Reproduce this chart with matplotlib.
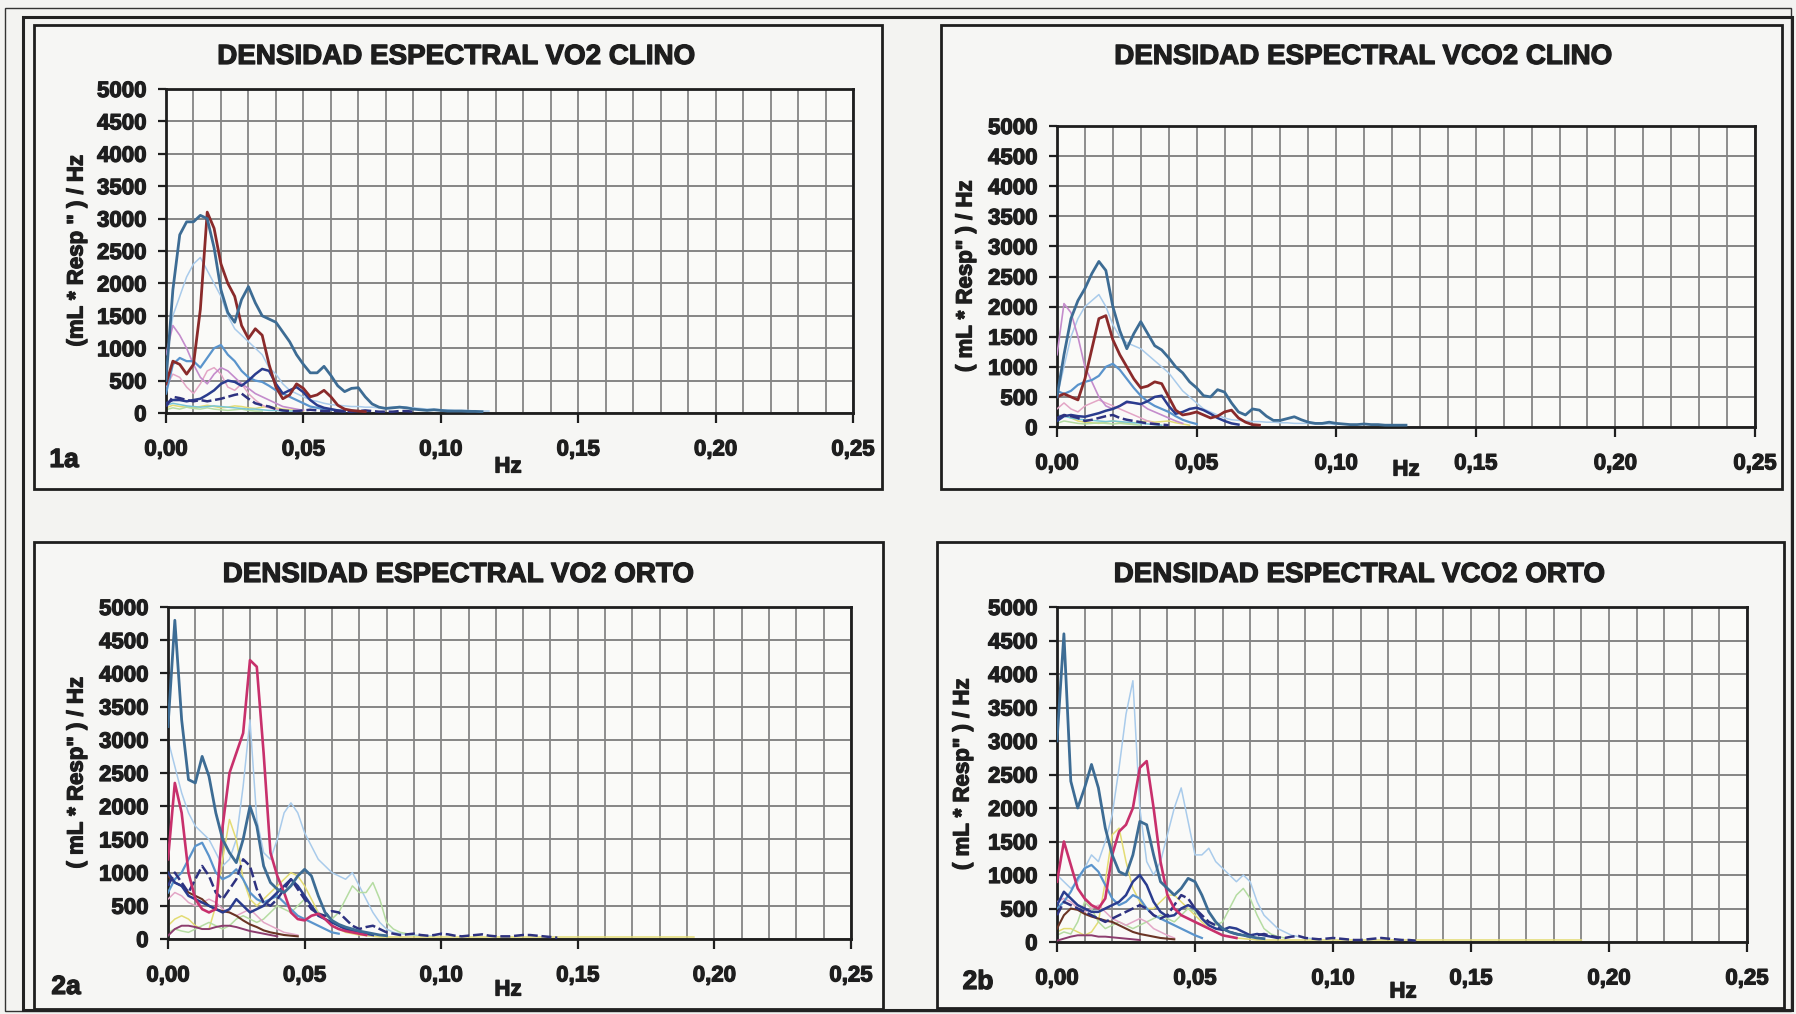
import numpy as np
import matplotlib
matplotlib.use('Agg')
import matplotlib.pyplot as plt
import matplotlib.patheffects as pe
from matplotlib.patches import Rectangle
from matplotlib.ticker import MultipleLocator

plt.rcParams['font.family'] = ['Liberation Sans', 'DejaVu Sans']
plt.rcParams['font.weight'] = 'bold'

W, H = 1796, 1014

# frequency bins (Hz), one every 0.0025
FREQ = np.arange(81) * 0.0025
XTICKS = [0.0, 0.05, 0.10, 0.15, 0.20, 0.25]
XTICK_LABELS = ['0,00', '0,05', '0,10', '0,15', '0,20', '0,25']
YTICKS = list(range(0, 5001, 500))
YTICK_LABELS = [str(v) for v in YTICKS]

TITLES = ['DENSIDAD ESPECTRAL VO2 CLINO', 'DENSIDAD ESPECTRAL VCO2 CLINO',
          'DENSIDAD ESPECTRAL VO2 ORTO', 'DENSIDAD ESPECTRAL VCO2 ORTO']
PANEL_TAGS = ['1a', '', '2a', '2b']
YLABELS = ['(mL * Resp " ) / Hz', '( mL * Resp" ) / Hz', '( mL * Resp" ) / Hz', '( mL * Resp" ) / Hz']
XLABEL = 'Hz'

# ---- 1a  VO2 clino ----
C_VO2_STEEL = [500, 1900, 2750, 2950, 2950, 3050, 3000, 2550, 1900, 1550, 1400, 1750, 1950, 1700, 1500, 1450,
               1400, 1250, 1100, 900, 750, 620, 620, 720, 580, 420, 330, 380, 390, 250, 140, 90, 70, 80, 90, 80,
               60, 50, 40, 50, 40, 30, 30, 30, 25, 25, 20]
C_VO2_DARKRED = [450, 800, 750, 600, 750, 1600, 3100, 2850, 2300, 2000, 1800, 1350, 1150, 1300, 1200, 750, 400,
                 220, 280, 450, 380, 250, 280, 350, 250, 120, 60, 40, 30, 20]
C_VO2_MEDBLUE = [300, 750, 850, 800, 800, 700, 850, 1000, 1050, 900, 800, 650, 550, 500, 480, 420, 350, 300, 250,
                 200, 150, 100, 80, 60, 50, 40, 30]
C_VO2_NAVY = [150, 200, 200, 180, 200, 220, 280, 350, 450, 500, 480, 420, 500, 600, 680, 650, 450, 300, 350, 400,
              320, 200, 120, 80, 60, 40, 30]
C_VO2_LAVENDER = [900, 1350, 1200, 1000, 750, 550, 450, 600, 700, 650, 550, 450, 380, 300, 250, 200, 150, 100, 80,
                  60, 40]
C_VO2_LIGHTBLUE = [800, 1500, 1800, 2100, 2300, 2400, 2200, 2000, 1800, 1500, 1300, 1200, 1100, 1000, 900, 700,
                   600, 450, 350, 300, 250, 200, 180, 150, 130, 120, 110, 100, 100, 90, 90, 80, 80, 90, 100, 90,
                   80, 70, 60, 60, 50, 50, 40, 40, 40, 30, 30, 30]
C_VO2_ROSE = [400, 600, 550, 400, 300, 450, 650, 700, 600, 400, 350, 450, 300, 200, 120, 80, 60, 40]
C_VO2_NAVYDASH = [100, 250, 230, 200, 180, 200, 180, 200, 220, 250, 280, 300, 220, 150, 120, 100, 60, 40, 30, 30,
                  40, 50, 40, 30, 30, 30, 20, 20, 30, 40, 30, 20, 20, 20, 30, 30, 20]
C_VO2_YELLOW = [80, 120, 100, 90, 80, 100, 120, 100, 80, 90, 110, 100, 80, 70, 90, 100, 80, 60, 50, 40, 30]
C_VO2_GREEN = [50, 80, 60, 90, 70, 60, 80, 60, 50, 40, 50, 60, 40, 30, 30]
C_VO2_CYAN = [120, 150, 130, 110, 100, 90, 100, 110, 100, 90, 80, 70, 60, 60, 50, 40, 40, 30, 30, 30]

# ---- 1b  VCO2 clino ----
C_VCO2_STEEL = [500, 1200, 1800, 2100, 2300, 2550, 2750, 2600, 2000, 1600, 1300, 1550, 1750, 1550, 1350, 1280,
                1150, 1000, 900, 750, 650, 520, 500, 620, 580, 400, 250, 200, 300, 280, 180, 110, 110, 140, 170,
                120, 80, 60, 60, 80, 60, 50, 40, 40, 50, 40, 40, 30, 30, 30, 30]
C_VCO2_DARKRED = [500, 550, 500, 450, 800, 1300, 1800, 1850, 1450, 1200, 1000, 800, 650, 680, 750, 720, 500, 280,
                  200, 220, 250, 200, 150, 180, 250, 280, 150, 80, 40, 30]
C_VCO2_LAVENDER = [1200, 2050, 1900, 1500, 1000, 750, 500, 350, 300, 350, 400, 400, 380, 300, 250, 200, 150, 100, 60]
C_VCO2_MEDBLUE = [600, 550, 600, 700, 750, 780, 850, 1000, 1050, 950, 800, 650, 520, 420, 350, 300, 250, 180, 120,
                  80, 50]
C_VCO2_NAVY = [100, 180, 200, 180, 170, 200, 230, 270, 300, 350, 420, 400, 380, 430, 500, 520, 350, 220, 250, 300,
               320, 280, 220, 150, 100, 60, 40]
C_VCO2_LIGHTBLUE = [500, 1000, 1500, 1800, 2000, 2100, 2200, 2000, 1700, 1500, 1400, 1350, 1300, 1200, 1100, 1000,
                    900, 750, 600, 500, 400, 300, 250, 200, 150, 120, 110, 100, 90, 90, 80, 80, 70, 70, 60, 60,
                    60, 50, 50, 50, 40]
C_VCO2_ROSE = [300, 400, 300, 250, 350, 400, 450, 400, 350, 300, 250, 200, 150, 100, 60]
C_VCO2_NAVYDASH = [150, 200, 180, 150, 100, 120, 150, 180, 200, 150, 120, 100, 80, 60, 50, 40, 30]
C_VCO2_YELLOW = [150, 200, 150, 100, 80, 70, 60, 80, 100, 80, 60, 70, 90, 100, 80, 90, 100, 70, 50, 30]
C_VCO2_GREEN = [60, 100, 80, 60, 50, 60, 70, 60, 50, 60, 50, 40, 30]
C_VCO2_CYAN = [200, 180, 150, 130, 120, 110, 100, 90, 100, 90, 80, 70, 60, 50, 40, 30]

# ---- 2a  VO2 orto ----
O_VO2_STEEL = [3200, 4800, 3300, 2400, 2350, 2750, 2450, 1900, 1500, 1300, 1150, 1500, 2000, 1700, 1100, 850, 750,
               700, 800, 950, 1050, 950, 650, 400, 280, 220, 180, 150, 120, 100, 80, 60, 50]
O_VO2_CRIMSON = [1200, 2350, 1900, 1000, 600, 450, 400, 450, 1700, 2500, 2800, 3100, 4200, 4100, 2800, 1300, 950,
                 700, 400, 300, 280, 350, 380, 300, 200, 150, 120, 100, 80, 60]
O_VO2_NAVYDASH = [800, 1000, 850, 700, 900, 1100, 950, 700, 600, 750, 900, 1200, 1100, 750, 550, 500, 600, 750,
                  900, 750, 600, 450, 380, 350, 420, 400, 300, 200, 150, 180, 200, 150, 100, 80, 60, 70, 80, 60,
                  50, 60, 80, 70, 50, 40, 50, 60, 70, 50, 40, 40, 40, 50, 60, 60, 50, 40, 30, 20]
O_VO2_NAVY = [1000, 850, 800, 650, 600, 550, 500, 450, 400, 450, 600, 500, 400, 450, 500, 600, 700, 800, 900, 800,
              650, 500, 350, 300, 250, 200, 150, 120, 100, 80, 60]
O_VO2_MEDBLUE = [700, 900, 1000, 1200, 1400, 1450, 1250, 1000, 900, 950, 1050, 900, 700, 600, 550, 600, 650, 550,
                 450, 350, 300, 250, 200, 150, 100, 80]
O_VO2_BROWN = [950, 850, 800, 700, 650, 600, 500, 450, 420, 400, 350, 280, 220, 180, 130, 100, 80, 60, 50, 40]
O_VO2_PLUM = [50, 150, 200, 200, 180, 150, 150, 180, 200, 200, 180, 150, 120, 100, 80, 60, 40]
O_VO2_YELLOW = [200, 300, 350, 300, 200, 150, 150, 500, 1200, 1800, 1500, 900, 600, 500, 600, 700, 800, 900,
                1000, 950, 800, 600, 400, 300, 200, 150, 100, 80, 60, 50, 40, 30, 30, 30, 30, 30, 30, 30, 30, 30,
                30, 30, 30, 30, 30, 30, 30, 30, 30, 30, 30, 30, 30, 30, 30, 30, 30, 30, 30, 30, 30, 30, 30, 30, 30,
                30, 30, 30, 30, 30, 30, 30, 30, 30, 30, 30, 30, 30]
O_VO2_LIGHTBLUE = [3000, 2600, 2200, 1900, 1700, 1600, 1500, 1300, 1100, 1200, 1500, 2300, 3300, 1800, 1300, 1200,
                   1500, 1900, 2050, 1900, 1600, 1400, 1200, 1100, 1000, 950, 900, 1000, 800, 600, 400, 250, 150,
                   100, 80, 70, 60, 50, 50, 40]
O_VO2_ROSE = [600, 700, 650, 550, 500, 550, 600, 550, 450, 400, 350, 400, 450, 350, 250, 200, 150, 100, 80, 60]
O_VO2_GREEN = [100, 150, 120, 100, 150, 200, 250, 200, 150, 200, 300, 350, 300, 250, 300, 400, 500, 450, 400, 500,
               600, 500, 400, 350, 300, 400, 600, 800, 700, 700, 850, 600, 250, 150, 100, 80, 60]

# ---- 2b  VCO2 orto ----
O_VCO2_STEEL = [3000, 4600, 2400, 2000, 2300, 2650, 2300, 1700, 1300, 1050, 1000, 1300, 1800, 1750, 1300, 900,
                800, 700, 800, 950, 900, 700, 450, 300, 200, 150, 120, 100, 80, 60, 50]
O_VCO2_CRIMSON = [900, 1500, 1150, 800, 650, 550, 500, 650, 1300, 1650, 1750, 2000, 2600, 2700, 2000, 1200, 700,
                  500, 400, 350, 300, 250, 200, 150, 100, 80, 60]
O_VCO2_NAVY = [550, 750, 650, 550, 500, 450, 450, 500, 550, 600, 700, 900, 1000, 850, 600, 450, 380, 400, 500,
               550, 500, 350, 250, 200, 180, 220, 200, 150, 100, 120, 100, 80, 60]
O_VCO2_NAVYDASH = [400, 600, 550, 500, 450, 400, 350, 300, 350, 400, 450, 500, 550, 500, 400, 350, 400, 550, 700,
                   650, 500, 400, 300, 250, 200, 150, 120, 100, 80, 100, 120, 90, 70, 60, 80, 90, 60, 50, 40, 50,
                   60, 50, 40, 30, 30, 40, 50, 60, 50, 40, 30, 30, 20]
O_VCO2_MEDBLUE = [500, 600, 750, 950, 1100, 1150, 1050, 850, 650, 550, 600, 700, 650, 500, 400, 350, 300, 250, 200,
                  150, 100, 60]
O_VCO2_BROWN = [200, 400, 500, 480, 420, 380, 350, 320, 300, 250, 200, 150, 120, 100, 80, 60, 50, 40]
O_VCO2_PLUM = [20, 50, 80, 100, 100, 100, 80, 80, 70, 60, 50, 40, 30]
O_VCO2_ROSE = [600, 650, 600, 500, 450, 500, 550, 450, 350, 300, 250, 300, 350, 300, 200, 150, 100, 60]
O_VCO2_LIGHTBLUE = [1000, 900, 800, 900, 1100, 1300, 1200, 1500, 1900, 2600, 3400, 3900, 2000, 1200, 1000, 1200,
                    1600, 2000, 2300, 1800, 1300, 1300, 1400, 1200, 1100, 1000, 900, 1000, 900, 600, 400, 300, 200,
                    150, 100, 80, 60, 50]
O_VCO2_YELLOW = [150, 200, 200, 150, 100, 150, 300, 900, 1600, 1700, 1200, 800, 600, 500, 500, 600, 700, 700, 600,
                 500, 400, 300, 200, 150, 100, 80, 60, 50, 40, 30, 30, 30, 30, 30, 30, 30, 30, 30, 30, 30, 30, 30,
                 30, 30, 30, 30, 30, 30, 30, 30, 30, 30, 30, 30, 30, 30, 30, 30, 30, 30, 30, 30, 30, 30, 30, 30,
                 30, 30, 30, 30, 30, 30, 30, 30, 30, 30, 30]
O_VCO2_GREEN = [100, 150, 120, 300, 600, 500, 300, 200, 250, 300, 250, 200, 250, 300, 350, 400, 350, 300, 400, 500,
                450, 350, 300, 250, 300, 500, 700, 800, 650, 400, 200, 120, 80, 60]

# style per series kind: colour, width, dash, zorder
STYLE = {
    'lightblue': ('#a9cbeb', 1.1, '-', 2),
    'yellow': ('#e3dc73', 1.1, '-', 2),
    'green': ('#b5dca2', 1.1, '-', 2),
    'cyan': ('#78c6d6', 1.1, '-', 2),
    'rose': ('#e3a6c6', 1.1, '-', 3),
    'lavender': ('#c48ccc', 1.2, '-', 3),
    'plum': ('#8c3c6e', 1.4, '-', 3),
    'brown': ('#6a3424', 1.5, '-', 4),
    'medblue': ('#5a94cc', 1.6, '-', 4),
    'navy': ('#2a3c8e', 1.8, '-', 5),
    'navydash': ('#2e3280', 1.8, (0, (4, 1.5)), 5),
    'crimson': ('#c8306c', 1.9, '-', 6),
    'darkred': ('#8a2a2a', 2.0, '-', 6),
    'steel': ('#3d6c94', 2.0, '-', 7),
}

PANEL_SERIES = [
    [('lightblue', C_VO2_LIGHTBLUE), ('yellow', C_VO2_YELLOW), ('green', C_VO2_GREEN), ('cyan', C_VO2_CYAN),
     ('rose', C_VO2_ROSE), ('lavender', C_VO2_LAVENDER), ('medblue', C_VO2_MEDBLUE), ('navy', C_VO2_NAVY),
     ('navydash', C_VO2_NAVYDASH), ('darkred', C_VO2_DARKRED), ('steel', C_VO2_STEEL)],
    [('lightblue', C_VCO2_LIGHTBLUE), ('yellow', C_VCO2_YELLOW), ('green', C_VCO2_GREEN), ('cyan', C_VCO2_CYAN),
     ('rose', C_VCO2_ROSE), ('lavender', C_VCO2_LAVENDER), ('medblue', C_VCO2_MEDBLUE), ('navy', C_VCO2_NAVY),
     ('navydash', C_VCO2_NAVYDASH), ('darkred', C_VCO2_DARKRED), ('steel', C_VCO2_STEEL)],
    [('lightblue', O_VO2_LIGHTBLUE), ('yellow', O_VO2_YELLOW), ('green', O_VO2_GREEN), ('rose', O_VO2_ROSE),
     ('plum', O_VO2_PLUM), ('brown', O_VO2_BROWN), ('medblue', O_VO2_MEDBLUE), ('navy', O_VO2_NAVY),
     ('navydash', O_VO2_NAVYDASH), ('crimson', O_VO2_CRIMSON), ('steel', O_VO2_STEEL)],
    [('lightblue', O_VCO2_LIGHTBLUE), ('yellow', O_VCO2_YELLOW), ('green', O_VCO2_GREEN), ('rose', O_VCO2_ROSE),
     ('plum', O_VCO2_PLUM), ('brown', O_VCO2_BROWN), ('medblue', O_VCO2_MEDBLUE), ('navy', O_VCO2_NAVY),
     ('navydash', O_VCO2_NAVYDASH), ('crimson', O_VCO2_CRIMSON), ('steel', O_VCO2_STEEL)],
]

# layout in pixels: axes (l, t, r, b), panel box, title, xlabel, ylabel x, tag position
AX_PX = [(166, 89, 853, 413), (1057, 126, 1755, 427), (168, 607, 851, 939), (1057, 607, 1747, 942)]
BOX_PX = [(34, 25, 882, 489), (941, 25, 1782, 489), (34, 542, 883, 1009), (937, 542, 1784, 1008)]
TITLE_PX = [(456, 57), (1363, 57), (458, 575), (1359, 575)]
XLAB_PX = [(508, 467), (1406, 470), (508, 990), (1403, 992)]
YLAB_X = [77, 966, 77, 963]
TAG_PX = [(64, 460), (0, 0), (66, 987), (978, 982)]

INK = '#1e1e1e'
BOLDER = [pe.withStroke(linewidth=0.9, foreground=INK)]


def fx(x):
    return x / W


def fy(y):
    return 1 - y / H


fig = plt.figure(figsize=(W / 100, H / 100), dpi=100)
fig.patch.set_facecolor('#f3f3f1')

# document frame
fig.add_artist(Rectangle((fx(5), fy(1011)), fx(1791) - fx(5), fy(8) - fy(1011), transform=fig.transFigure,
                         fill=False, ec='#333333', lw=1.0))
fig.add_artist(Rectangle((fx(23), fy(1010)), fx(1792) - fx(23), fy(17) - fy(1010), transform=fig.transFigure,
                         fill=False, ec='#222222', lw=2.2))

for i in range(4):
    l, t, r, b = BOX_PX[i]
    fig.add_artist(Rectangle((fx(l), fy(b)), fx(r) - fx(l), fy(t) - fy(b), transform=fig.transFigure,
                             fill=True, fc='#f6f6f4', ec=INK, lw=2.0, zorder=0))

    l, t, r, b = AX_PX[i]
    ax = fig.add_axes([fx(l), fy(b), fx(r) - fx(l), fy(t) - fy(b)])
    ax.set_facecolor('#fafaf8')

    for kind, vals in PANEL_SERIES[i]:
        col, lw, ls, z = STYLE[kind]
        ax.plot(FREQ[:len(vals)], vals, color=col, lw=lw, ls=ls, zorder=z)

    ax.set_xlim(0, 0.25)
    ax.set_ylim(0, 5000)
    ax.set_xticks(XTICKS)
    ax.set_xticklabels(XTICK_LABELS)
    ax.set_yticks(YTICKS)
    ax.set_yticklabels(YTICK_LABELS)
    ax.xaxis.set_minor_locator(MultipleLocator(0.01))
    ax.grid(which='both', axis='x', color='#858585', lw=1.3, zorder=1)
    ax.grid(which='major', axis='y', color='#858585', lw=1.4, zorder=1)
    ax.set_axisbelow(True)
    ax.tick_params(axis='x', which='major', length=7, width=1.6, pad=12, labelsize=16, colors=INK)
    ax.tick_params(axis='x', which='minor', length=0)
    ax.tick_params(axis='y', length=6, width=1.6, pad=8, labelsize=16, colors=INK)
    for lab in ax.get_xticklabels() + ax.get_yticklabels():
        lab.set_fontweight('bold')
        lab.set_path_effects(BOLDER)
    for sp in ax.spines.values():
        sp.set_linewidth(2.0)
        sp.set_color(INK)

    tx, ty = TITLE_PX[i]
    fig.text(fx(tx), fy(ty), TITLES[i], ha='center', va='center', fontsize=20, fontweight='bold',
             color=INK, path_effects=BOLDER)
    hx, hy = XLAB_PX[i]
    fig.text(fx(hx), fy(hy), XLABEL, ha='center', va='center', fontsize=16, fontweight='bold', color=INK,
             path_effects=BOLDER)
    fig.text(fx(YLAB_X[i]), fy((t + b) / 2), YLABELS[i], ha='center', va='center', rotation=90, fontsize=16,
             fontweight='bold', color=INK, path_effects=BOLDER)
    if PANEL_TAGS[i]:
        gx, gy = TAG_PX[i]
        fig.text(fx(gx), fy(gy), PANEL_TAGS[i], ha='center', va='center', fontsize=19, fontweight='bold',
                 color=INK, path_effects=BOLDER)

fig.savefig('out.png', dpi=100, facecolor=fig.get_facecolor())
